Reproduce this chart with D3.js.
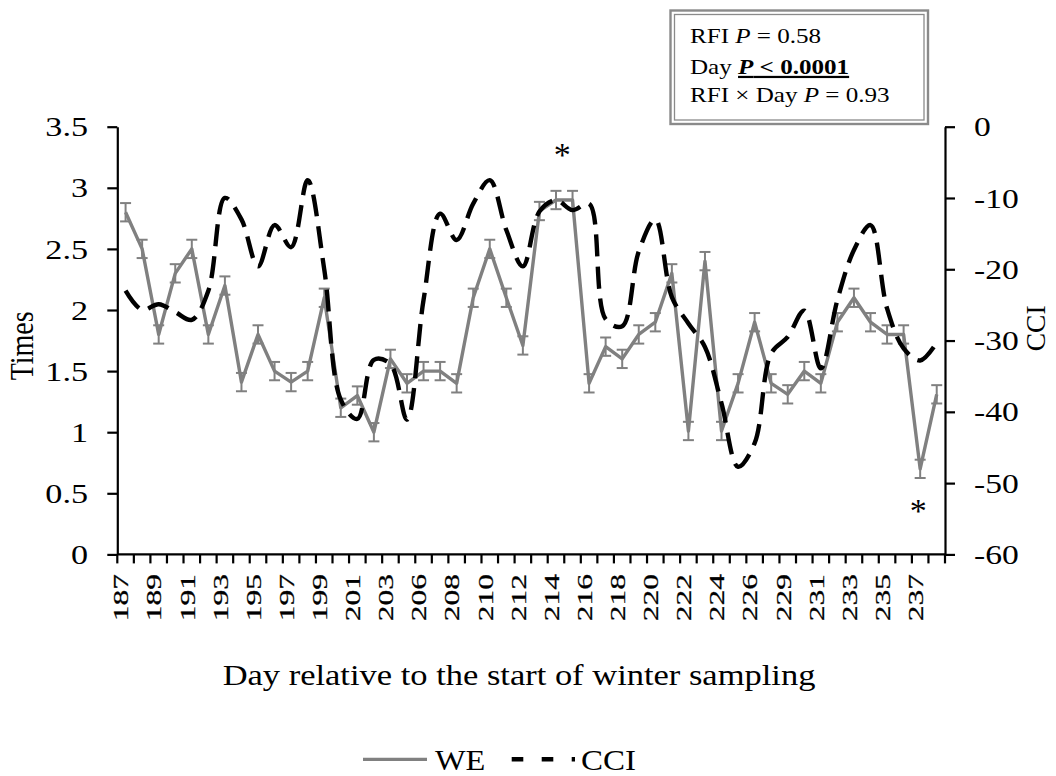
<!DOCTYPE html>
<html>
<head>
<meta charset="utf-8">
<script src="https://cdn.jsdelivr.net/npm/d3@7"></script>
<style>
  html, body { margin: 0; padding: 0; background: #fff; }
  svg { display: block; }
  text { font-family: "Liberation Serif", "Times New Roman", serif; fill: #000; }
</style>
</head>
<body>
<div id="chart"></div>
<script>
// ---------- DATA ----------
const days = ["187","188","189","190","191","192","193","194","195","196","197","198","199","200","201","202","203","204",
  "206","207","208","209","210","211","212","213","214","215","216","217","218","219","220","221","222","223","224","225","226","227",
  "229","230","231","232","233","234","235","236","237","238"];
const xTickLabels = ["187","189","191","193","195","197","199","201","203","206","208","210","212","214","216","218","220","222","224","226","229","231","233","235","237"];
const weValues = [2.80,2.50,1.80,2.30,2.50,1.80,2.20,1.41,1.80,1.50,1.41,1.50,2.10,1.20,1.30,1.00,1.60,1.40,
  1.50,1.50,1.40,2.10,2.50,2.10,1.71,2.81,2.90,2.90,1.40,1.70,1.60,1.80,1.90,2.30,1.01,2.40,1.01,1.40,1.90,1.40,
  1.31,1.50,1.40,1.90,2.10,1.90,1.80,1.80,0.70,1.31];
const weErr = [0.075,0.075,0.075,0.075,0.075,0.075,0.075,0.075,0.075,0.075,0.075,0.075,0.075,0.075,0.075,0.075,0.075,0.075,
  0.075,0.075,0.075,0.075,0.075,0.075,0.075,0.075,0.075,0.075,0.075,0.075,0.075,0.075,0.075,0.075,0.075,0.075,0.075,0.075,0.075,0.075,
  0.075,0.075,0.075,0.075,0.075,0.075,0.075,0.075,0.075,0.075];
const cciValues = [-23.0,-25.7,-24.9,-26.0,-27.1,-23.0,-10.0,-13.0,-19.6,-13.8,-16.9,-7.5,-20.0,-38.3,-41.0,-32.7,-33.3,-41.1,
  -24.3,-12.2,-15.9,-10.8,-7.5,-14.5,-19.6,-11.9,-10.3,-11.7,-10.8,-27.0,-28.0,-17.5,-13.0,-23.9,-27.6,-30.9,-38.8,-47.7,-44.4,-31.8,
  -29.5,-25.8,-33.9,-24.3,-17.3,-13.8,-25.5,-31.1,-32.8,-30.3];
const leftTicks = [0,0.5,1,1.5,2,2.5,3,3.5];
const leftTickLabels = ["0","0.5","1","1.5","2","2.5","3","3.5"];
const rightTicks = [0,-10,-20,-30,-40,-50,-60];
const rightTickLabels = ["0","-10","-20","-30","-40","-50","-60"];
const starDays = [["214","215"],["237"]];
const starValues = [3.31,0.40];
const statsLines = [
  [{t:"RFI "},{t:"P",i:true},{t:" = 0.58"}],
  [{t:"Day "},{t:"P",i:true,b:true,u:true},{t:" < 0.0001",b:true,u:true}],
  [{t:"RFI × Day "},{t:"P",i:true},{t:" = 0.93"}]
];
const legendNames = ["WE","CCI"];
const yLeftTitle = "Times";
const yRightTitle = "CCI";
const xTitle = "Day relative to the start of winter sampling";

// ---------- LAYOUT ----------
const W = 1056, H = 776;
const P = {l:117.3, r:945, t:126.7, b:554.4};
const GRAY = "#808080";

const svg = d3.select("#chart").append("svg").attr("width", W).attr("height", H)
  .style("background", "#fff");

const x = d3.scaleBand().domain(days).range([P.l, P.r]).paddingInner(0).paddingOuter(0);
const cx = d => x(d) + x.bandwidth()/2;
const yL = d3.scaleLinear().domain([0,3.5]).range([P.b, P.t]);
const yR = d3.scaleLinear().domain([-60,0]).range([P.b, P.t]);

function txt(g, px, py, str, o) {
  const sx = o.sx || 1, sy = o.sy || 1, rot = o.rot || 0;
  return g.append("text")
    .attr("transform", `translate(${px},${py}) scale(${sx},${sy}) rotate(${rot})`)
    .attr("font-size", o.size)
    .attr("text-anchor", o.anchor || "start")
    .text(str);
}

const axisColor = "#000", axisW = 2.2;

// Left axis
const gL = svg.append("g").attr("transform", `translate(${P.l},0)`);
gL.call(d3.axisLeft(yL).tickValues(leftTicks).tickSize(10).tickSizeOuter(0).tickFormat(""));
gL.selectAll("path,line").attr("stroke", axisColor).attr("stroke-width", axisW);
leftTicks.forEach((v,i) => txt(svg, 88, yL(v) + 9.6, leftTickLabels[i], {size:28, sx:1.22, anchor:"end"}));

// Right axis
const gR = svg.append("g").attr("transform", `translate(${P.r},0)`);
gR.call(d3.axisRight(yR).tickValues(rightTicks).tickSize(10).tickSizeOuter(0).tickFormat(""));
gR.selectAll("path,line").attr("stroke", axisColor).attr("stroke-width", axisW);
rightTicks.forEach((v,i) => txt(svg, 974, yR(v) + 9.6, rightTickLabels[i], {size:28, sx:1.2, anchor:"start"}));

// X axis (category boundaries ticks)
const gX = svg.append("g");
gX.append("line").attr("x1", P.l).attr("x2", P.r).attr("y1", yL(0)).attr("y2", yL(0))
  .attr("stroke", axisColor).attr("stroke-width", axisW);
const bounds = days.map(d => x(d)).concat([x.range()[1]]);
gX.selectAll("line.tk").data(bounds).join("line").attr("class","tk")
  .attr("x1", d => d).attr("x2", d => d).attr("y1", yL(0)).attr("y2", yL(0) + 9)
  .attr("stroke", axisColor).attr("stroke-width", axisW);
days.forEach(d => {
  if (xTickLabels.includes(d)) {
    txt(svg, cx(d) + 2.8, 574, d, {size:30, sx:0.71, sy:1.05, rot:-90, anchor:"end"})
      .attr("stroke", "#000").attr("stroke-width", 0.35);
  }
});

// Axis titles
txt(svg, 33.3, 345.8, yLeftTitle, {size:28, sx:1.18, rot:-90, anchor:"middle"});
txt(svg, 1045, 328.3, yRightTitle, {size:27.5, sx:1.0, rot:-90, anchor:"middle"});
txt(svg, 519, 685, xTitle, {size:30, sx:1.15, anchor:"middle"});

// Error bars
const gE = svg.append("g").attr("stroke", GRAY).attr("stroke-width", 2);
days.forEach((d,i) => {
  const X = cx(d), y1 = yL(weValues[i] + weErr[i]), y2 = yL(weValues[i] - weErr[i]);
  gE.append("line").attr("x1", X).attr("x2", X).attr("y1", y1).attr("y2", y2);
  gE.append("line").attr("x1", X-5.5).attr("x2", X+5.5).attr("y1", y1).attr("y2", y1);
  gE.append("line").attr("x1", X-5.5).attr("x2", X+5.5).attr("y1", y2).attr("y2", y2);
});

// WE line
svg.append("path").datum(days.map((d,i) => [cx(d), yL(weValues[i])]))
  .attr("d", d3.line()).attr("fill","none").attr("stroke", GRAY).attr("stroke-width", 3.4)
  .attr("stroke-linejoin","round");

// CCI dashed smoothed line
svg.append("path").datum(days.map((d,i) => [cx(d), yR(cciValues[i])]))
  .attr("d", d3.line().curve(d3.curveCatmullRom.alpha(0.5)))
  .attr("fill","none").attr("stroke","#000").attr("stroke-width", 4.4)
  .attr("stroke-dasharray","22,10");

// Asterisks
starDays.forEach((ds,k) => {
  const X = d3.mean(ds, d => cx(d)) - 2;
  txt(svg, X, yL(starValues[k]) + 16, "*", {size:34, anchor:"middle"});
});

// Stats box
const bx = 670.5, by = 10.5, bw = 257.5, bh = 113.5;
svg.append("rect").attr("x", bx).attr("y", by).attr("width", bw).attr("height", bh)
  .attr("fill","#fff").attr("stroke","#8a8a8a").attr("stroke-width", 2.4);
svg.append("rect").attr("x", bx+4).attr("y", by+4).attr("width", bw-8).attr("height", bh-8)
  .attr("fill","none").attr("stroke","#8a8a8a").attr("stroke-width", 1.3);
const statBase = [42.7, 74, 101.7];
statsLines.forEach((parts, li) => {
  const t = svg.append("text")
    .attr("transform", `translate(690,${statBase[li]}) scale(1.14,1)`)
    .attr("font-size", 22);
  parts.forEach(p => {
    const ts = t.append("tspan").text(p.t);
    if (p.i) ts.attr("font-style","italic");
    if (p.b) ts.attr("font-weight","bold");
    if (p.u) ts.attr("text-decoration","underline");
  });
});

// Legend
const ly = 759.3;
svg.append("line").attr("x1", 363).attr("x2", 427).attr("y1", ly).attr("y2", ly)
  .attr("stroke", GRAY).attr("stroke-width", 3.2);
txt(svg, 435, 770, legendNames[0], {size:30, sx:1.08});
svg.append("line").attr("x1", 511.7).attr("x2", 575).attr("y1", ly).attr("y2", ly)
  .attr("stroke", "#000").attr("stroke-width", 4.4).attr("stroke-dasharray","11.6,18.4");
txt(svg, 581, 770, legendNames[1], {size:30, sx:1.1});
</script>
</body>
</html>
